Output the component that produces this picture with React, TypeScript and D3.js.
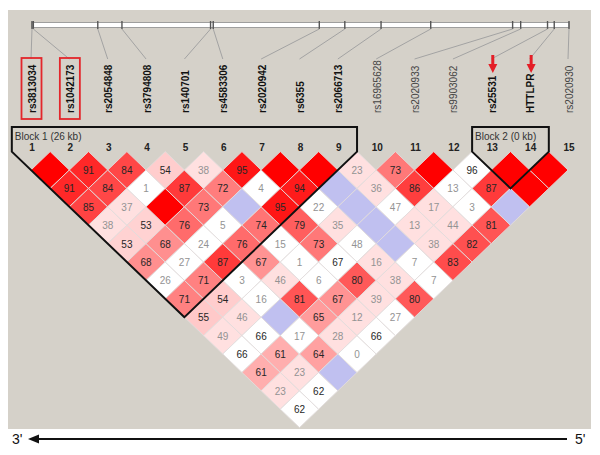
import { useEffect, useRef } from "react";
import * as d3 from "d3";

const markerNames = [
  "rs3813034", "rs1042173", "rs2054848", "rs3794808", "rs140701",
  "rs4583306", "rs2020942", "rs6355", "rs2066713", "rs16965628",
  "rs2020933", "rs9903062", "rs25531", "HTTLPR", "rs2020930",
];
const markerBold = [1, 1, 1, 1, 1, 1, 1, 1, 1, 0, 0, 0, 1, 1, 0];
// approximate physical position along the region (kb)
const markerKb = [0, 0.1, 4.9, 6.7, 13.3, 13.5, 21.4, 23.3, 26.0, 29.7, 35.8, 36.4, 38.4, 38.9, 40.0];
const boxedMarkers = [1, 2];
const arrowMarkers = [13, 14];

// D' x 100 for pair (i, j>i), one row per first marker
const dPrime = [
  [100, 91, 85, 38, 53, 68, 26, 71, 55, 49, 66, 61, 23, 62],
  [91, 84, 37, 53, 68, 27, 71, 54, 46, 66, 61, 23, 62],
  [84, 1, 100, 76, 24, 87, 3, 16, 100, 17, 64, 100],
  [54, 87, 73, 5, 76, 67, 46, 81, 65, 28, 0],
  [38, 72, 100, 74, 15, 1, 6, 67, 12, 66],
  [95, 4, 95, 79, 73, 67, 80, 39, 27],
  [100, 94, 22, 35, 48, 16, 38, 80],
  [100, 100, 100, 100, 100, 7, 7],
  [23, 36, 47, 13, 38, 83],
  [73, 86, 17, 44, 82],
  [100, 13, 3, 81],
  [96, 87, 100],
  [100, 100],
  [100],
];
// 1 = LOD >= 2
const lodHigh = [
  [1, 1, 1, 1, 1, 1, 0, 1, 1, 1, 0, 1, 1, 0],
  [1, 1, 1, 1, 1, 0, 1, 1, 1, 0, 1, 1, 0],
  [1, 0, 1, 1, 0, 1, 0, 0, 0, 0, 1, 0],
  [1, 1, 1, 0, 1, 1, 1, 1, 1, 1, 0],
  [1, 1, 0, 1, 0, 0, 0, 1, 1, 0],
  [1, 0, 1, 1, 1, 0, 1, 1, 0],
  [1, 1, 0, 1, 0, 1, 1, 1],
  [1, 0, 0, 0, 0, 0, 0],
  [1, 1, 0, 1, 1, 1],
  [1, 1, 1, 1, 1],
  [1, 0, 0, 1],
  [0, 1, 0],
  [1, 1],
  [1],
];
const blocks = [
  { label: "Block 1 (26 kb)", first: 1, last: 9 },
  { label: "Block 2 (0 kb)", first: 13, last: 14 },
];

const FONT = "'Liberation Sans', Arial, sans-serif";

function cellColor(d: number, high: number) {
  if (high) {
    if (d >= 100) return "rgb(255,0,0)";
    if (d < 50) return "rgb(255,224,224)";
    const blgr = Math.round(Math.max(0, Math.min(255, 446 * (1 - d / 100))));
    return `rgb(255,${blgr},${blgr})`;
  }
  return d >= 100 ? "rgb(192,192,240)" : "#ffffff";
}

export default function App() {
  const ref = useRef<SVGSVGElement>(null);

  useEffect(() => {
    const svg = d3.select(ref.current);
    svg.selectAll("*").remove();

    const n = markerNames.length;
    const x = d3.scaleLinear().domain([1, n]).range([31, 568]);
    const xKb = d3.scaleLinear().domain([0, 40]).range([32, 569]);
    const hw = (x(2) - x(1)) / 2; // half width of a diamond
    const y = d3.scaleLinear().domain([1, n - 1]).range([170, 409.2]);
    const hh = y(2) - y(1); // half height of a diamond

    // grey panel
    svg.append("rect").attr("x", 8).attr("y", 10).attr("width", 583).attr("height", 419)
      .attr("fill", "#d5d1c9");

    // physical map bar
    svg.append("rect").attr("x", xKb(0)).attr("y", 22.5).attr("width", xKb(40) - xKb(0)).attr("height", 5)
      .attr("fill", "#fff").attr("stroke", "#8c8c8c").attr("stroke-width", 0.8);
    svg.selectAll(".tick").data(markerKb).join("line")
      .attr("x1", (d) => xKb(d)).attr("x2", (d) => xKb(d))
      .attr("y1", 21).attr("y2", 29)
      .attr("stroke", "#555").attr("stroke-width", 1.4);
    svg.selectAll(".conn").data(markerKb).join("line")
      .attr("x1", (d) => xKb(d)).attr("y1", 29)
      .attr("x2", (_d, i) => x(i + 1)).attr("y2", 59)
      .attr("stroke", "#a3a3a3").attr("stroke-width", 1);

    // marker names
    svg.selectAll(".mname").data(markerNames).join("text")
      .attr("transform", (_d, i) => `translate(${x(i + 1) + 1},113) rotate(-90)`)
      .attr("dominant-baseline", "central")
      .attr("font-family", FONT)
      .attr("font-size", 10)
      .attr("font-weight", (_d, i) => (markerBold[i] ? "bold" : "normal"))
      .attr("fill", (_d, i) => (markerBold[i] ? "#111" : "#444"))
      .text((d) => d);

    svg.selectAll(".mbox").data(boxedMarkers).join("rect")
      .attr("x", (d) => x(d) - 9.5).attr("y", 58).attr("width", 20).attr("height", 61)
      .attr("fill", "none").attr("stroke", "#e3262b").attr("stroke-width", 1.8);

    arrowMarkers.forEach((m) => {
      const ax = x(m) + 1.5;
      svg.append("line").attr("x1", ax).attr("x2", ax).attr("y1", 55).attr("y2", 66)
        .attr("stroke", "#e41e26").attr("stroke-width", 3);
      svg.append("path").attr("d", `M${ax - 4.5},64 L${ax + 4.5},64 L${ax},73 Z`).attr("fill", "#e41e26");
    });

    // marker numbers
    svg.selectAll(".mnum").data(markerNames).join("text")
      .attr("x", (_d, i) => x(i + 1) + 1).attr("y", 151)
      .attr("text-anchor", "middle")
      .attr("font-family", FONT).attr("font-size", 10).attr("font-weight", "bold")
      .attr("fill", "#222")
      .text((_d, i) => i + 1);

    // LD cells
    const cells: { i: number; j: number; d: number; high: number }[] = [];
    dPrime.forEach((row, r) => row.forEach((d, c) => {
      cells.push({ i: r + 1, j: r + 2 + c, d, high: lodHigh[r][c] });
    }));
    const cx = (c: { i: number; j: number }) => (x(c.i) + x(c.j)) / 2;
    const cy = (c: { i: number; j: number }) => y(c.j - c.i);

    svg.selectAll(".cell").data(cells).join("path")
      .attr("d", (c) => {
        const px = cx(c), py = cy(c);
        return `M${px},${py - hh} L${px + hw},${py} L${px},${py + hh} L${px - hw},${py} Z`;
      })
      .attr("fill", (c) => cellColor(c.d, c.high))
      .attr("stroke", "#e2dcdc").attr("stroke-width", 0.9);

    svg.selectAll(".cval").data(cells.filter((c) => c.d < 100)).join("text")
      .attr("x", cx).attr("y", (c) => cy(c) + 0.5)
      .attr("text-anchor", "middle").attr("dominant-baseline", "central")
      .attr("font-family", FONT).attr("font-size", 10)
      .attr("fill", (c) => (c.d >= 50 ? "#262626" : "#939393"))
      .text((c) => c.d);

    // haplotype blocks
    blocks.forEach((b) => {
      const left = x(b.first) - hw;
      const right = x(b.last) + hw;
      const apexX = (x(b.first) + x(b.last)) / 2;
      const apexY = y(b.last - b.first) + hh;
      const sideY = apexY - (apexX - left) * (hh / hw);
      const top = 127;
      svg.append("path")
        .attr("d", `M${apexX},${apexY} L${left},${sideY} L${left},${top} L${right},${top} L${right},${sideY} Z`)
        .attr("fill", "none").attr("stroke", "#111").attr("stroke-width", 2)
        .attr("stroke-linejoin", "miter");
      svg.append("text").attr("x", left + 3).attr("y", 140)
        .attr("font-family", FONT).attr("font-size", 10).attr("fill", "#333")
        .text(b.label);
    });

    // direction arrow
    svg.append("line").attr("x1", 36).attr("x2", 567).attr("y1", 439).attr("y2", 439)
      .attr("stroke", "#111").attr("stroke-width", 1.8);
    svg.append("path").attr("d", "M28,439 L39,434.5 L39,443.5 Z").attr("fill", "#111");
    svg.append("text").attr("x", 12).attr("y", 444).attr("font-family", FONT).attr("font-size", 14)
      .attr("fill", "#111").text("3'");
    svg.append("text").attr("x", 575).attr("y", 444).attr("font-family", FONT).attr("font-size", 14)
      .attr("fill", "#111").text("5'");
  }, []);

  return (
    <div style={{ position: "absolute", left: 0, top: 0 }}>
      <svg ref={ref} width={600} height={455} style={{ display: "block", background: "#fff" }} />
    </div>
  );
}
